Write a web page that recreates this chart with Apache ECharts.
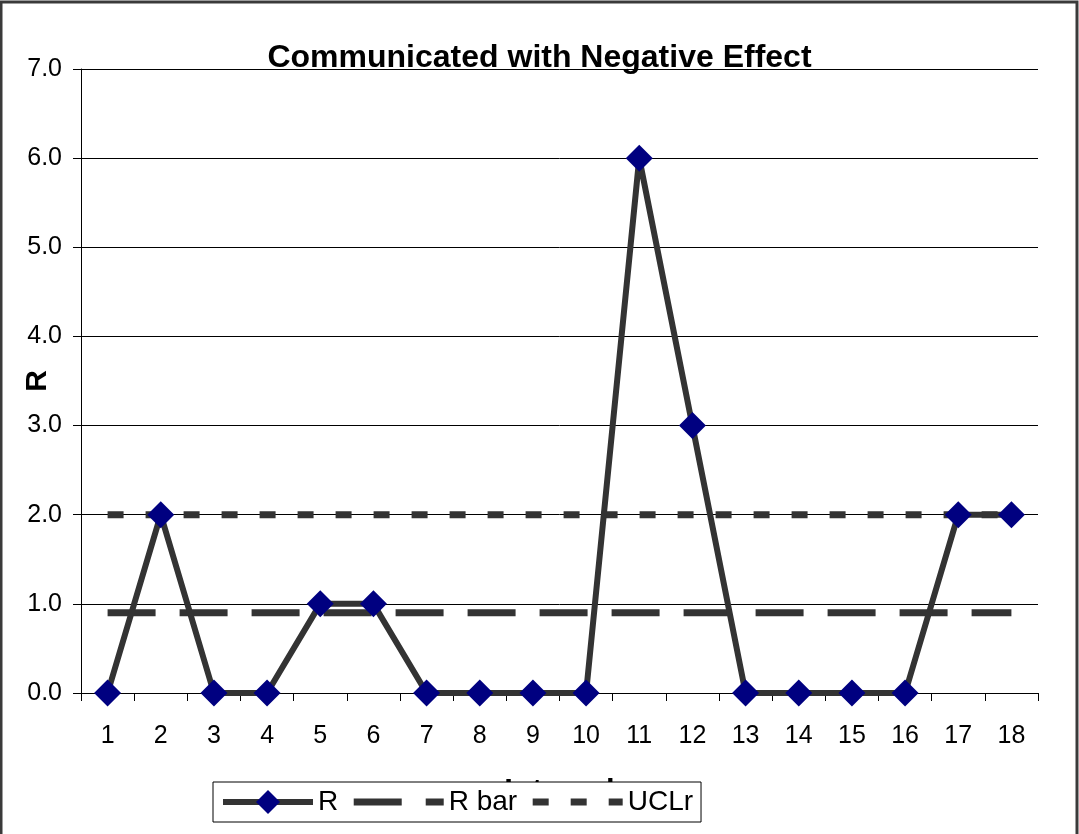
<!DOCTYPE html>
<html>
<head>
<meta charset="utf-8">
<script src="https://cdn.jsdelivr.net/npm/echarts@6/dist/echarts.min.js"></script>
<style>
html,body{margin:0;padding:0;background:#fff;}
#chart{width:1079px;height:834px;}
</style>
</head>
<body>
<div id="chart"></div>
<script>
const categories = ['1','2','3','4','5','6','7','8','9','10','11','12','13','14','15','16','17','18'];
const rValues = [0, 2, 0, 0, 1, 1, 0, 0, 0, 0, 6, 3, 0, 0, 0, 0, 2, 2];
const rBarValues = [0.9, 0.9, 0.9, 0.9, 0.9, 0.9, 0.9, 0.9, 0.9, 0.9, 0.9, 0.9, 0.9, 0.9, 0.9, 0.9, 0.9, 0.9];
const uclValues = [2.0, 2.0, 2.0, 2.0, 2.0, 2.0, 2.0, 2.0, 2.0, 2.0, 2.0, 2.0, 2.0, 2.0, 2.0, 2.0, 2.0, 2.0];
const seriesNames = ['R', 'R bar', 'UCLr'];
const titleText = 'Communicated with Negative Effect';
const xAxisName = 'Interval';
const yAxisName = 'R';

const FONT = '"Liberation Sans", Arial, sans-serif';
const hidden = 'rgba(0,0,0,0)';
const chart = echarts.init(document.getElementById('chart'), null, {renderer: 'canvas'});
chart.setOption({
  backgroundColor: '#ffffff',
  animation: false,
  textStyle: {fontFamily: FONT, color: '#000'},
  title: {
    text: titleText,
    left: 'center',
    top: 42,
    padding: 0,
    textStyle: {fontFamily: FONT, fontSize: 32, fontWeight: 'bold', color: '#000'}
  },
  graphic: [{
    type: 'rect',
    shape: {x: 1, y: 2, width: 1076, height: 900},
    style: {fill: 'none', stroke: '#3a3a3a', lineWidth: 3},
    z: 100,
    silent: true
  }],
  grid: {left: 81, right: 41, top: 69, bottom: 141, containLabel: false, outerBoundsMode: 'none'},
  legend: {
    data: [
      {name: seriesNames[0], lineStyle: {width: 6}},
      {name: seriesNames[1], lineStyle: {width: 7}, itemStyle: {color: hidden, borderColor: hidden, borderWidth: 0, opacity: 0}},
      {name: seriesNames[2], lineStyle: {width: 7}, itemStyle: {color: hidden, borderColor: hidden, borderWidth: 0, opacity: 0}}
    ],
    left: 213,
    top: 782,
    padding: [6, 8, 6, 7],
    itemWidth: 90,
    itemHeight: 30,
    itemGap: 12,
    backgroundColor: '#fff',
    borderColor: '#000',
    borderWidth: 1,
    lineStyle: {width: 6},
    textStyle: {fontFamily: FONT, fontSize: 28, color: '#000'},
    z: 10
  },
  xAxis: {
    type: 'category',
    data: categories,
    boundaryGap: true,
    name: xAxisName,
    nameLocation: 'middle',
    nameGap: 84,
    nameMoveOverlap: false,
    nameTextStyle: {fontFamily: FONT, fontSize: 31, fontWeight: 'bold', color: '#000'},
    axisLine: {lineStyle: {color: '#000', width: 1}},
    axisTick: {show: true, length: 8, alignWithLabel: false, lineStyle: {color: '#000'}},
    axisLabel: {fontFamily: FONT, fontSize: 25, color: '#000', margin: 31, interval: 0},
    splitLine: {show: false}
  },
  yAxis: {
    type: 'value',
    min: 0,
    max: 7,
    interval: 1,
    name: yAxisName,
    nameLocation: 'middle',
    nameRotate: 90,
    nameGap: 28,
    nameMoveOverlap: false,
    nameTextStyle: {fontFamily: FONT, fontSize: 30, fontWeight: 'bold', color: '#000'},
    axisLine: {show: true, lineStyle: {color: '#000', width: 1}},
    axisTick: {show: true, length: 8, lineStyle: {color: '#000'}},
    axisLabel: {fontFamily: FONT, fontSize: 25, color: '#000', margin: 19, formatter: v => v.toFixed(1)},
    splitLine: {show: true, lineStyle: {color: '#000', width: 1}}
  },
  series: [
    {
      name: seriesNames[1],
      type: 'line',
      data: rBarValues,
      symbol: 'none',
      lineStyle: {color: '#333333', width: 7, type: [48, 24], cap: 'butt'},
      itemStyle: {color: '#333333'},
      z: 2
    },
    {
      name: seriesNames[2],
      type: 'line',
      data: uclValues,
      symbol: 'none',
      lineStyle: {color: '#333333', width: 7, type: [16, 22], cap: 'butt'},
      itemStyle: {color: '#333333'},
      z: 2
    },
    {
      name: seriesNames[0],
      type: 'line',
      data: rValues,
      symbol: 'diamond',
      symbolSize: 27,
      showAllSymbol: true,
      lineStyle: {color: '#333333', width: 6},
      itemStyle: {color: '#000080', borderWidth: 0},
      z: 3
    }
  ]
});
</script>
</body>
</html>
